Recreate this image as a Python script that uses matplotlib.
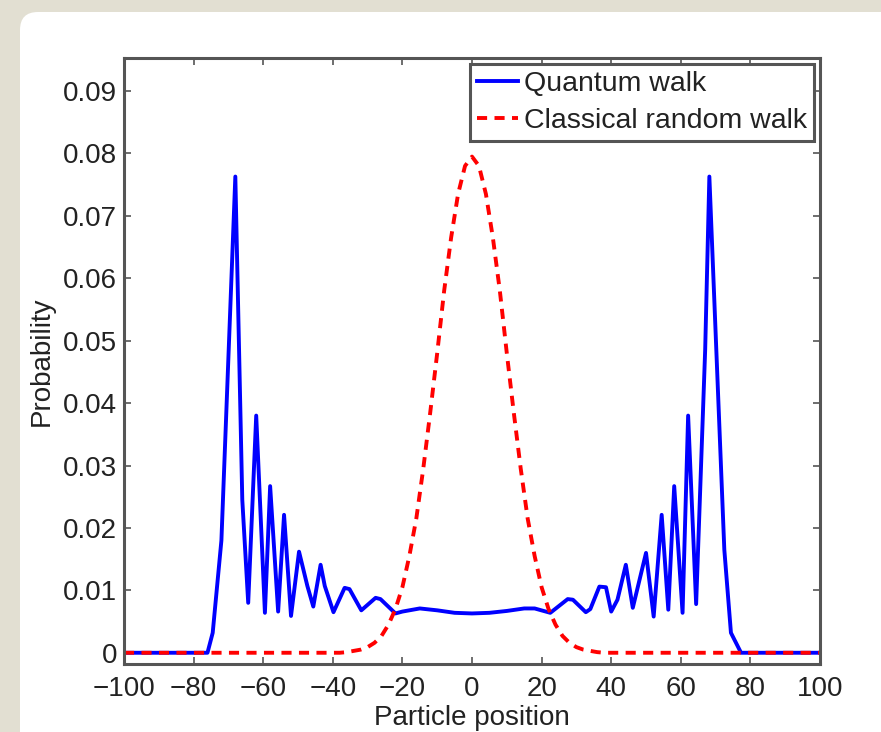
# plot.py
# Quantum walk vs classical random walk - probability of particle position
# values

import matplotlib
matplotlib.use('Agg')
import matplotlib.pyplot as plt
from matplotlib.patches import FancyBboxPatch

OUT_FILE = 'out.png'

# Quantum walk (vertices of the blue curve)
quantum_x = [-100, -76, -74.5, -72, -68, -66, -64.3, -62, -59.5, -58, -55.7, -54,
             -52, -49.7, -47.3, -45.6, -43.5, -42.3, -39.8, -36.6, -35.2, -31.8,
             -27.7, -26.3, -22, -20, -15, -10, -5, 0,
             5, 10, 15, 18, 22.5, 25, 27.5, 29, 32.7, 34, 36.6, 38.5, 40, 41.8,
             44.2, 46.2, 50, 52.2, 54.5, 56.4, 58.1, 60.5, 62.1, 64.4, 67, 68.2,
             72.5, 74.4, 77.3, 100]
quantum_y = [0, 0, 0.0032, 0.018, 0.0763, 0.0245, 0.008, 0.038, 0.0064, 0.0267,
             0.0066, 0.0221, 0.0059, 0.0162, 0.0107, 0.0074, 0.0141, 0.0107,
             0.0065, 0.0104, 0.0102, 0.0068, 0.0088, 0.0086, 0.0063, 0.0066,
             0.0071, 0.0068, 0.0064, 0.0063,
             0.0064, 0.0067, 0.0071, 0.0071, 0.0064, 0.0075, 0.0086, 0.0085,
             0.0065, 0.007, 0.0106, 0.0105, 0.0066, 0.0085, 0.0141, 0.0072,
             0.016, 0.0058, 0.0221, 0.0069, 0.0267, 0.0064, 0.038, 0.0078,
             0.0486, 0.0763, 0.0165, 0.0032, 0, 0]

# Classical random walk (red dashed curve)
classical_x = [-100, -40, -38, -36, -34, -32, -30, -28, -26, -24, -22, -20, -18,
               -16, -14, -12, -10, -8, -6, -4, -2, 0, 2, 4, 6, 8, 10, 12, 14,
               16, 18, 20, 22, 24, 26, 28, 30, 32, 34, 36, 38, 40, 100]
classical_y = [0, 0, 0, 0.0001, 0.0003, 0.0005, 0.0009, 0.0016, 0.0027, 0.0045,
               0.0070, 0.0105, 0.0155, 0.0215, 0.0295, 0.0385, 0.048, 0.058,
               0.0665, 0.0735, 0.078, 0.0795, 0.078, 0.0735, 0.0665, 0.058,
               0.048, 0.0385, 0.0295, 0.0215, 0.0155, 0.0105, 0.0070, 0.0045,
               0.0027, 0.0016, 0.0009, 0.0005, 0.0003, 0.0001, 0, 0, 0]

x_ticks = [-100, -80, -60, -40, -20, 0, 20, 40, 60, 80, 100]
y_ticks = [0, 0.01, 0.02, 0.03, 0.04, 0.05, 0.06, 0.07, 0.08, 0.09]
y_tick_labels = ['0', '0.01', '0.02', '0.03', '0.04', '0.05', '0.06', '0.07',
                 '0.08', '0.09']

plt.rcParams['font.family'] = ['Liberation Sans', 'DejaVu Sans']
FONT_SIZE = 20
LEGEND_SIZE = 20.5
TEXT_COLOR = '#222222'
FRAME_COLOR = '#555555'

fig = plt.figure(figsize=(8.81, 7.32), dpi=100, facecolor='#e2dfd2')

# white rounded panel behind the plot (pixel coords)
panel = FancyBboxPatch((20, -40), 900, 732 - 12 + 40,
                       boxstyle='round,pad=0,rounding_size=18',
                       facecolor='white', edgecolor='none', transform=None,
                       zorder=-10)
fig.patches.append(panel)

ax = fig.add_axes([0.1407, 0.0929, 0.7901, 0.8279])
ax.plot(quantum_x, quantum_y, color='#0000ff', lw=2.8, label='Quantum walk')
ax.plot(classical_x, classical_y, color='#ff0000', lw=2.8, dashes=(2.6, 1.9),
        label='Classical random walk')

ax.set_xlim(-100, 100)
ax.set_ylim(-0.0018, 0.0953)
ax.set_xticks(x_ticks)
ax.set_yticks(y_ticks)
ax.set_yticklabels(y_tick_labels)
ax.tick_params(direction='in', top=True, right=True, length=5, width=1.2,
               color=FRAME_COLOR, labelsize=FONT_SIZE, labelcolor=TEXT_COLOR)
ax.tick_params(axis='x', pad=9)
ax.tick_params(axis='y', pad=5)
for s in ax.spines.values():
    s.set_color(FRAME_COLOR)
    s.set_linewidth(2.2)

ax.set_xlabel('Particle position', fontsize=FONT_SIZE, color=TEXT_COLOR, labelpad=2)
ax.set_ylabel('Probability', fontsize=FONT_SIZE, color=TEXT_COLOR, labelpad=6)

leg = ax.legend(loc='upper right', fontsize=LEGEND_SIZE, fancybox=False,
                framealpha=1, edgecolor=FRAME_COLOR, borderaxespad=0.2,
                handlelength=1.45, handletextpad=0.2, labelspacing=0.4,
                borderpad=0.25)
leg.get_frame().set_linewidth(2.2)
for t in leg.get_texts():
    t.set_color(TEXT_COLOR)

fig.savefig(OUT_FILE, dpi=100, facecolor=fig.get_facecolor())
print("Saved '%s'" % OUT_FILE)
